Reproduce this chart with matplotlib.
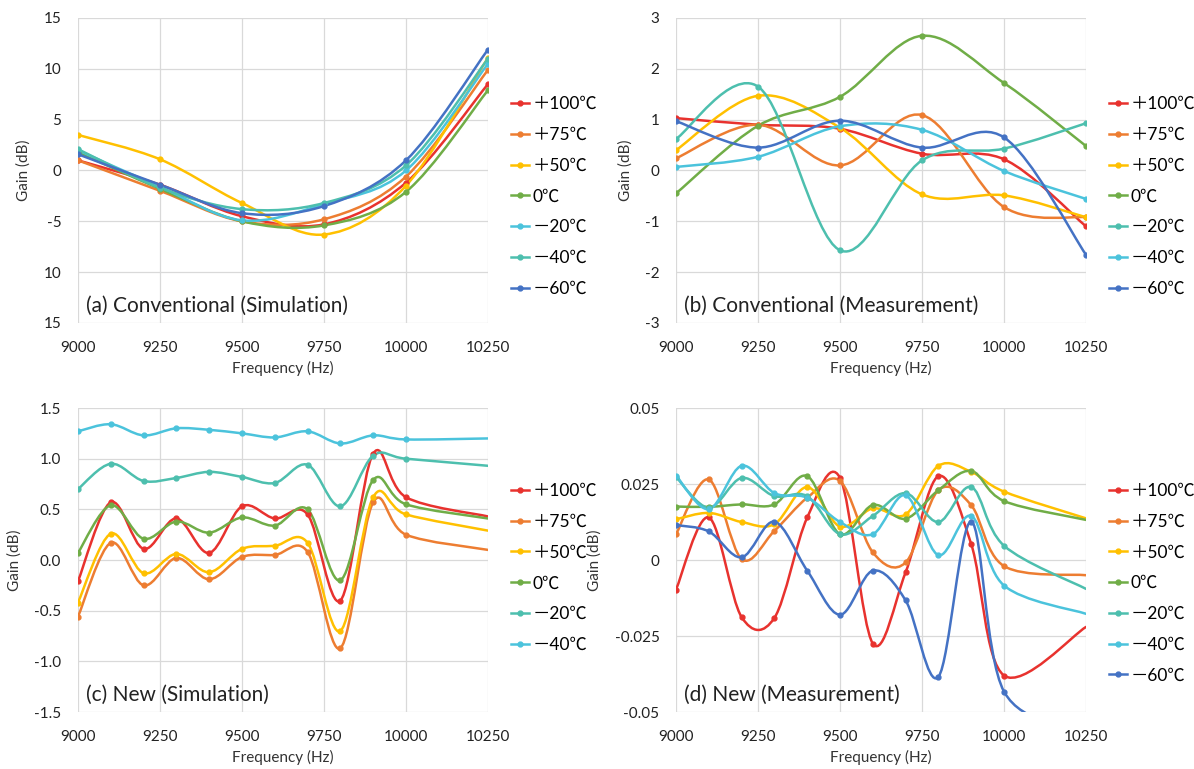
import numpy as np
import matplotlib
matplotlib.use("Agg")
import matplotlib.pyplot as plt
from matplotlib.path import Path
from matplotlib.patches import PathPatch
from matplotlib.lines import Line2D

plt.rcParams['font.family'] = ['Lato', 'Noto Sans CJK JP', 'DejaVu Sans']
plt.rcParams['axes.unicode_minus'] = False

# --- data ---
freq_conv = [9000, 9250, 9500, 9750, 10000, 10250]
freq_new = [9000, 9100, 9200, 9300, 9400, 9500, 9600, 9700, 9800, 9900, 10000, 10250]

temps7 = ["＋100℃", "＋75℃", "＋50℃", "0℃", "－20℃", "－40℃", "－60℃"]
temps6 = temps7[:6]

# (a) conventional, simulation
a_p100 = [1.0, -1.4, -4.5, -5.3, -1.2, 8.5]
a_p75 = [1.0, -2.0, -5.0, -4.8, -0.6, 9.9]
a_p50 = [3.5, 1.1, -3.2, -6.3, -1.5, 11.1]
a_0 = [1.8, -1.8, -5.0, -5.4, -2.1, 7.9]
a_m20 = [2.0, -1.6, -4.9, -3.3, 0.0, 10.5]
a_m40 = [2.1, -1.7, -3.8, -3.2, 0.5, 11.0]
a_m60 = [1.6, -1.4, -4.2, -3.5, 1.0, 11.9]

# (b) conventional, measurement
b_p100 = [1.03, 0.90, 0.82, 0.33, 0.22, -1.10]
b_p75 = [0.24, 0.90, 0.10, 1.09, -0.72, -0.92]
b_p50 = [0.40, 1.47, 0.84, -0.47, -0.49, -0.92]
b_0 = [-0.45, 0.88, 1.45, 2.65, 1.72, 0.48]
b_m20 = [0.62, 1.65, -1.57, 0.20, 0.43, 0.93]
b_m40 = [0.07, 0.27, 0.87, 0.80, -0.01, -0.56]
b_m60 = [0.97, 0.45, 0.98, 0.45, 0.65, -1.66]

# (c) new, simulation (last value read at the right edge)
c_p100 = [-0.21, 0.57, 0.11, 0.41, 0.07, 0.53, 0.41, 0.45, -0.40, 1.05, 0.62, 0.43]
c_p75 = [-0.56, 0.17, -0.25, 0.02, -0.19, 0.03, 0.05, 0.08, -0.87, 0.57, 0.25, 0.10]
c_p50 = [-0.42, 0.26, -0.13, 0.06, -0.12, 0.11, 0.14, 0.17, -0.70, 0.62, 0.45, 0.29]
c_0 = [0.07, 0.54, 0.21, 0.38, 0.27, 0.42, 0.34, 0.50, -0.20, 0.79, 0.55, 0.41]
c_m20 = [0.70, 0.95, 0.78, 0.81, 0.87, 0.82, 0.76, 0.94, 0.53, 1.03, 1.00, 0.93]
c_m40 = [1.27, 1.34, 1.23, 1.30, 1.285, 1.25, 1.21, 1.27, 1.15, 1.23, 1.19, 1.20]

# (d) new, measurement (last value read at the right edge)
d_p100 = [-0.0097, 0.014, -0.0188, -0.019, 0.014, 0.027, -0.0275, -0.004, 0.0276, 0.0052, -0.038, -0.022]
d_p75 = [0.0085, 0.0265, 0.0003, 0.0096, 0.0205, 0.026, 0.0025, -0.0008, 0.023, 0.018, -0.002, -0.005]
d_p50 = [0.0134, 0.0155, 0.0125, 0.0118, 0.024, 0.011, 0.017, 0.015, 0.031, 0.029, 0.0225, 0.0137]
d_0 = [0.0176, 0.0175, 0.0183, 0.0183, 0.0276, 0.0085, 0.0181, 0.0136, 0.023, 0.0293, 0.0194, 0.0132]
d_m20 = [0.0273, 0.0172, 0.027, 0.021, 0.021, 0.0085, 0.0145, 0.022, 0.0125, 0.024, 0.0047, -0.0095]
d_m40 = [0.0278, 0.0167, 0.031, 0.022, 0.0205, 0.0125, 0.0085, 0.0213, 0.0016, 0.0145, -0.0084, -0.0177]
d_m60 = [0.0115, 0.0094, 0.0009, 0.0126, -0.0035, -0.018, -0.0035, -0.0133, -0.0384, 0.0126, -0.0433, -0.056]

# excel-like colours
RED, ORANGE, GOLD, GREEN = "#e8322e", "#ed7d31", "#ffc000", "#70ad47"
TEAL, CYAN, BLUE = "#4dbfae", "#4bc3dc", "#4472c4"
colors_std = [RED, ORANGE, GOLD, GREEN, TEAL, CYAN, BLUE]
colors_a = [RED, ORANGE, GOLD, GREEN, CYAN, TEAL, BLUE]


def smooth_line(ax, x, y, color):
    # Excel style smoothed line: cubic Bezier through the points
    pts = np.column_stack([x, y]).astype(float)
    n = len(pts)
    verts = [pts[0]]
    codes = [Path.MOVETO]
    for i in range(n - 1):
        p0 = pts[max(i - 1, 0)]
        p1 = pts[i]
        p2 = pts[i + 1]
        p3 = pts[min(i + 2, n - 1)]
        verts += [p1 + (p2 - p0) / 6, p2 - (p3 - p1) / 6, p2]
        codes += [Path.CURVE4] * 3
    ax.add_patch(PathPatch(Path(verts, codes), fill=False, edgecolor=color,
                           lw=1.8, capstyle="round", joinstyle="round"))


def panel(ax, x, series, colors, labels, title, ylim, yticks, ylabels, leg_y, mark_last=True):
    for ys, c in zip(series, colors):
        smooth_line(ax, x, ys, c)
        idx = list(range(len(x))) if mark_last else list(range(len(x) - 1))
        ax.plot(x, ys, ls="none", marker="o", ms=3.5, color=c, markevery=idx, clip_on=True)
    ax.set_xlim(9000, 10250)
    ax.set_ylim(*ylim)
    ax.set_xticks([9000, 9250, 9500, 9750, 10000, 10250])
    ax.set_yticks(yticks)
    ax.set_yticklabels(ylabels)
    ax.grid(True, color="#d9d9d9", lw=0.9)
    ax.set_axisbelow(True)
    for s in ax.spines.values():
        s.set_visible(False)
    ax.tick_params(length=0, labelsize=11, colors="#222222")
    ax.tick_params(axis="x", pad=13)
    ax.tick_params(axis="y", pad=12)
    ax.set_xlabel("Frequency (Hz)", fontsize=11, labelpad=4, color="#333333")
    ax.set_ylabel("Gain (dB)", fontsize=11, labelpad=9, color="#333333")
    ax.text(0.02, 0.055, title, transform=ax.transAxes, fontsize=15,
            va="center", ha="left", color="#222222")
    handles = [Line2D([], [], color=c, lw=1.8, marker="o", ms=3.5) for c in colors]
    ax.legend(handles, labels, loc="center left", bbox_to_anchor=(1.04, leg_y),
              frameon=False, fontsize=12.5, handlelength=1.0, handletextpad=0.2,
              labelspacing=0.85, borderaxespad=0)


fig = plt.figure(figsize=(11.94, 7.69), dpi=100)
ax_a = fig.add_axes([0.0653, 0.580, 0.3434, 0.3966])
ax_b = fig.add_axes([0.5662, 0.580, 0.3434, 0.3966])
ax_c = fig.add_axes([0.0653, 0.0741, 0.3434, 0.3953])
ax_d = fig.add_axes([0.5662, 0.0741, 0.3434, 0.3953])

panel(ax_a, freq_conv, [a_p100, a_p75, a_p50, a_0, a_m20, a_m40, a_m60], colors_a, temps7,
      "(a) Conventional (Simulation)", (-15, 15), [-15, -10, -5, 0, 5, 10, 15],
      ["15", "10", "-5", "0", "5", "10", "15"], 0.415)
panel(ax_b, freq_conv, [b_p100, b_p75, b_p50, b_0, b_m20, b_m40, b_m60], colors_std, temps7,
      "(b) Conventional (Measurement)", (-3, 3), [-3, -2, -1, 0, 1, 2, 3],
      ["-3", "-2", "-1", "0", "1", "2", "3"], 0.415)
panel(ax_c, freq_new, [c_p100, c_p75, c_p50, c_0, c_m20, c_m40], colors_std[:6], temps6,
      "(c) New (Simulation)", (-1.5, 1.5), [-1.5, -1.0, -0.5, 0.0, 0.5, 1.0, 1.5],
      ["-1.5", "-1.0", "-0.5", "0.0", "0.5", "1.0", "1.5"], 0.474, mark_last=False)
panel(ax_d, freq_new, [d_p100, d_p75, d_p50, d_0, d_m20, d_m40, d_m60], colors_std, temps7,
      "(d) New (Measurement)", (-0.05, 0.05), [-0.05, -0.025, 0, 0.025, 0.05],
      ["-0.05", "-0.025", "0", "0.025", "0.05"], 0.424, mark_last=False)

fig.savefig("out.png", dpi=100)
